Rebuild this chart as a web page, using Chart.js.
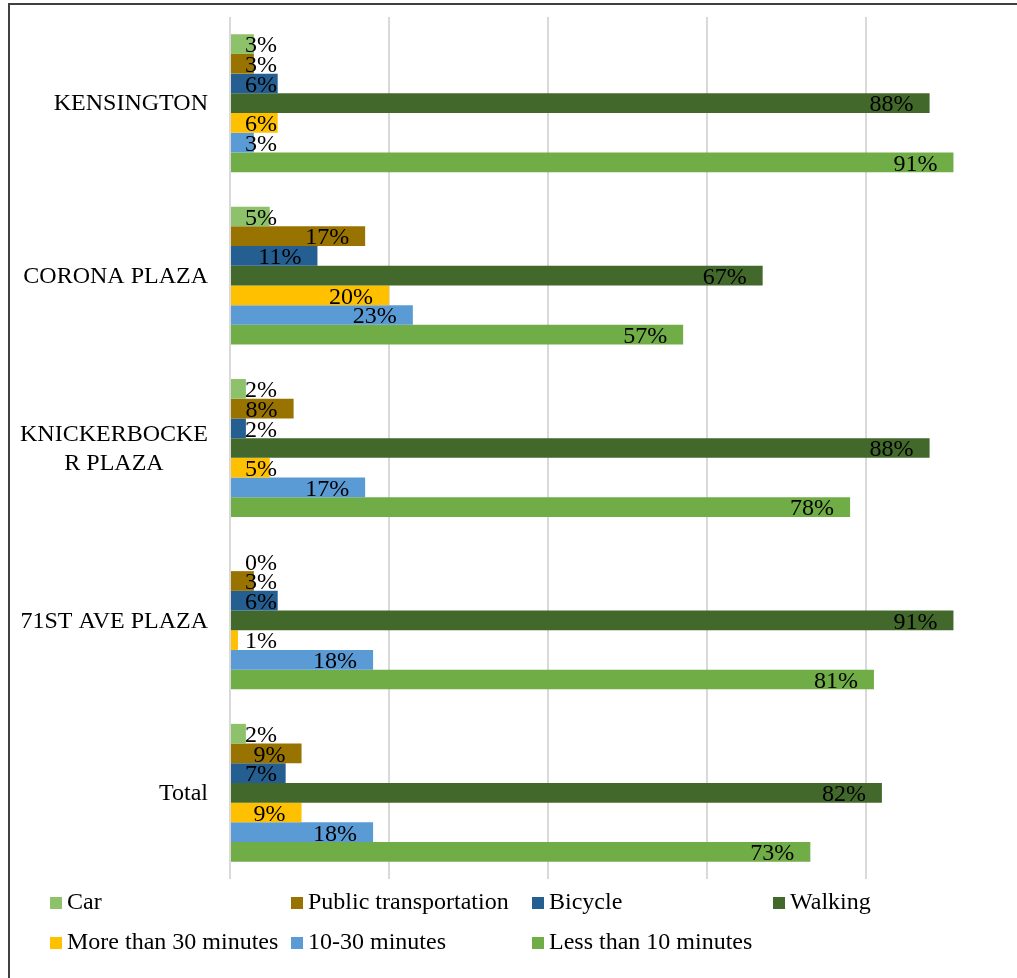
<!DOCTYPE html>
<html>
<head>
<meta charset="utf-8">
<script src="https://cdn.jsdelivr.net/npm/chart.js@4/dist/chart.umd.min.js"></script>
<style>
    html, body { margin: 0; padding: 0; background: #fff; overflow: hidden; }
    #marco {
        position: absolute; left: 8px; top: 3px; width: 1100px; height: 1100px;
        border: 2px solid #404040; box-sizing: border-box;
    }
    #grafica { position: absolute; left: 0; top: 0; }
</style>
</head>
<body>
<div id="marco"></div>
<canvas id="grafica" width="1060" height="1000"></canvas>
<script>
// Modo de llegada y tiempo de trayecto por plaza.
var plazas = ['KENSINGTON', 'CORONA PLAZA', ['KNICKERBOCKE', 'R PLAZA'],
    '71ST AVE PLAZA', 'Total'];

var car = [3, 5, 2, 0, 2];
var publicTransportation = [3, 17, 8, 3, 9];
var bicycle = [6, 11, 2, 6, 7];
var walking = [88, 67, 88, 91, 82];
var moreThan30 = [6, 20, 5, 1, 9];
var from10to30 = [3, 23, 17, 18, 18];
var lessThan10 = [91, 57, 78, 81, 73];

var series = [
    { label: 'Car', values: car, color: '#8DC26B' },
    { label: 'Public transportation', values: publicTransportation, color: '#997300' },
    { label: 'Bicycle', values: bicycle, color: '#255E91' },
    { label: 'Walking', values: walking, color: '#43682B' },
    { label: 'More than 30 minutes', values: moreThan30, color: '#FFC000' },
    { label: '10-30 minutes', values: from10to30, color: '#5B9BD5' },
    { label: 'Less than 10 minutes', values: lessThan10, color: '#70AD47' }
];

var fuente = '24px "Liberation Serif", "Times New Roman", serif';

// Etiquetas de valor al final de cada barra.
var etiquetasPlugin = {
    id: 'etiquetas',
    afterDatasetsDraw: function (chart) {
        var ctx = chart.ctx;
        var x0 = chart.scales.x.getPixelForValue(0);
        ctx.save();
        ctx.font = fuente;
        ctx.fillStyle = '#000';
        ctx.textAlign = 'right';
        ctx.textBaseline = 'middle';
        chart.data.datasets.forEach(function (ds, i) {
            chart.getDatasetMeta(i).data.forEach(function (bar, j) {
                var x = Math.max(bar.x - 16, x0 + 47);
                ctx.fillText(ds.data[j] + '%', x, bar.y + 2);
            });
        });
        ctx.restore();
    }
};

// Nombres de las plazas a la izquierda, cada bloque centrado por líneas.
var plazasPlugin = {
    id: 'plazas',
    afterDraw: function (chart) {
        var ctx = chart.ctx;
        var yScale = chart.scales.y;
        var derecha = chart.scales.x.getPixelForValue(0) - 22;
        ctx.save();
        ctx.font = fuente;
        ctx.fillStyle = '#000';
        ctx.textAlign = 'center';
        ctx.textBaseline = 'middle';
        plazas.forEach(function (p, i) {
            var lineas = Array.isArray(p) ? p : [p];
            var ancho = 0;
            lineas.forEach(function (l) {
                ancho = Math.max(ancho, ctx.measureText(l).width);
            });
            var yc = yScale.getPixelForTick(i);
            var cx = derecha - ancho / 2;
            lineas.forEach(function (l, k) {
                ctx.fillText(l, cx, yc + (k - (lineas.length - 1) / 2) * 29 + 1);
            });
        });
        ctx.restore();
    }
};

// Leyenda en dos filas con columnas fijas.
var leyendaPlugin = {
    id: 'leyenda',
    afterDraw: function (chart) {
        var ctx = chart.ctx;
        ctx.save();
        ctx.font = fuente;
        ctx.textAlign = 'left';
        ctx.textBaseline = 'middle';
        series.forEach(function (s, i) {
            var col = i < 4 ? i : i - 4;
            var fila = i < 4 ? 0 : 1;
            var x = 50 + col * 241;
            var y = 903 + fila * 40;
            ctx.fillStyle = s.color;
            ctx.fillRect(x, y - 6, 12, 12);
            ctx.fillStyle = '#000';
            ctx.fillText(s.label, x + 17, y);
        });
        ctx.restore();
    }
};

var datasets = series.map(function (s) {
    return {
        label: s.label,
        data: s.values,
        backgroundColor: s.color,
        borderWidth: 0,
        categoryPercentage: 0.8,
        barPercentage: 1
    };
});

new Chart(document.getElementById('grafica').getContext('2d'), {
    type: 'bar',
    data: { labels: plazas, datasets: datasets },
    options: {
        indexAxis: 'y',
        responsive: false,
        animation: false,
        devicePixelRatio: 1,
        layout: { padding: { left: 230, top: 17, right: 35, bottom: 121 } },
        plugins: {
            legend: { display: false },
            tooltip: { enabled: false }
        },
        scales: {
            x: {
                min: 0,
                max: 100,
                ticks: { display: false, stepSize: 20 },
                grid: { color: '#D9D9D9', lineWidth: 2, drawTicks: false },
                border: { display: false }
            },
            y: {
                ticks: { display: false },
                grid: { display: false, drawTicks: false },
                border: { display: false }
            }
        }
    },
    plugins: [etiquetasPlugin, plazasPlugin, leyendaPlugin]
});
</script>
</body>
</html>
